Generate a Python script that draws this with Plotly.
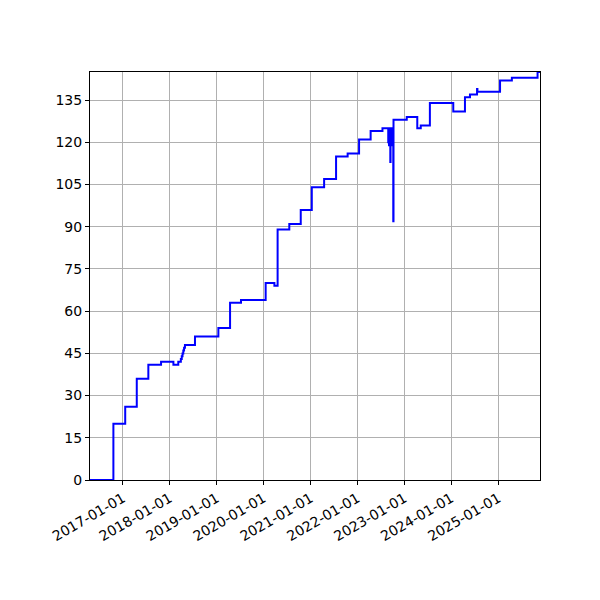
import plotly.graph_objects as go

# dates where the count changes, and the count from that day on
dates = [
    "2016-04-20", "2016-10-19", "2017-01-19", "2017-04-19", "2017-07-18",
    "2017-10-25", "2018-01-29", "2018-03-08", "2018-03-28", "2018-04-04",
    "2018-04-10", "2018-04-16", "2018-04-22", "2018-04-29", "2018-07-16",
    "2019-01-14", "2019-04-15", "2019-07-09", "2020-01-17", "2020-03-25",
    "2020-04-19", "2020-07-19", "2020-10-16", "2021-01-10", "2021-04-16",
    "2021-07-18", "2021-10-16", "2022-01-13", "2022-04-13", "2022-07-14",
    "2022-08-28", "2022-08-31", "2022-09-03", "2022-09-06", "2022-09-09",
    "2022-09-13", "2022-09-15", "2022-09-18", "2022-09-21", "2022-09-24",
    "2022-09-27", "2022-10-06", "2022-10-08", "2023-01-19", "2023-04-11",
    "2023-05-08", "2023-07-18", "2024-01-16", "2024-04-16", "2024-05-25",
    "2024-07-19", "2024-07-22", "2025-01-14", "2025-04-16", "2025-11-02",
    "2025-11-21",
]
valeurs = [
    0, 20, 26, 36, 41,
    42, 41, 42, 43, 44,
    45, 46, 47, 48, 51,
    54, 63, 64, 70, 69,
    89, 91, 96, 104, 107,
    115, 116, 121, 124, 125,
    120, 125, 119, 124, 120,
    113, 125, 119, 124, 120,
    125, 92, 128, 129, 125,
    126, 134, 131, 136, 137,
    139, 138, 142, 143, 145,
    145,
]

ticks_x = ["2017-01-01", "2018-01-01", "2019-01-01", "2020-01-01", "2021-01-01",
           "2022-01-01", "2023-01-01", "2024-01-01", "2025-01-01"]
ticks_y = [0, 15, 30, 45, 60, 75, 90, 105, 120, 135]

fig = go.Figure()
fig.add_trace(go.Scatter(
    x=dates, y=valeurs, mode="lines", line_shape="hv",
    line=dict(color="blue", width=2), showlegend=False,
))

axe = dict(
    showline=True, linecolor="black", linewidth=1, mirror=True,
    ticks="outside", ticklen=4, tickcolor="black",
    showgrid=True, gridcolor="#b0b0b0", gridwidth=1, zeroline=False,
)
fig.update_xaxes(
    **axe, type="date", range=["2016-04-20", "2025-11-21"],
    tickvals=ticks_x, ticktext=ticks_x, tickangle=-30,
)
fig.update_yaxes(**axe, range=[0, 145], tickvals=ticks_y)

# la page ajoute 8 px de marge autour du graphique
fig.update_layout(
    width=600, height=600,
    margin=dict(l=82, r=68, t=64, b=128),
    plot_bgcolor="white", paper_bgcolor="white",
    font=dict(family="DejaVu Sans", size=14, color="black"),
)

fig.write_html("out.html")
